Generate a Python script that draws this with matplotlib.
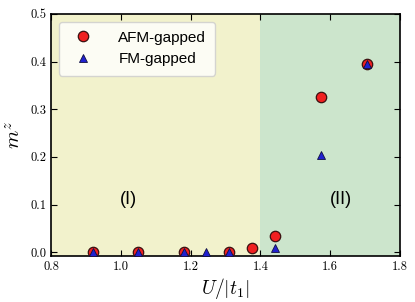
import matplotlib
matplotlib.use("Agg")
import matplotlib.pyplot as plt

# data
u_afm = [0.92, 1.05, 1.18, 1.31, 1.377, 1.443, 1.574, 1.705]
m_afm = [0.0, 0.0, 0.0, 0.0, 0.010, 0.035, 0.325, 0.395]
u_fm = [0.92, 1.05, 1.18, 1.245, 1.31, 1.443, 1.574, 1.705]
m_fm = [0.0, 0.0, 0.0, 0.0, 0.0, 0.010, 0.205, 0.395]
xticks = [0.8, 1.0, 1.2, 1.4, 1.6, 1.8]
yticks = [0.0, 0.1, 0.2, 0.3, 0.4, 0.5]

plt.rcParams['mathtext.fontset'] = 'cm'
plt.rcParams['font.family'] = ['Liberation Sans', 'DejaVu Sans']

fig, ax = plt.subplots(figsize=(4.15, 3.02), dpi=100)
fig.subplots_adjust(left=0.123, right=0.964, top=0.954, bottom=0.152)

# phase regions
ax.axvspan(0.8, 1.4, color='y', alpha=0.2, lw=0)
ax.axvspan(1.4, 1.8, color='g', alpha=0.2, lw=0)

ax.plot(u_afm, m_afm, 'o', ms=7.5, mfc='#f02020', mec='#3a1010', mew=0.9,
        label='AFM-gapped', zorder=3)
ax.plot(u_fm, m_fm, '^', ms=5.5, mfc='#2020d0', mec='#101040', mew=0.6,
        label='FM-gapped', zorder=4)

ax.text(1.023, 0.111, '(I)', fontsize=13, ha='center', va='center')
ax.text(1.632, 0.111, '(II)', fontsize=13, ha='center', va='center')

ax.set_xlim(0.8, 1.8)
ax.set_ylim(-0.008, 0.5)
ax.set_xticks(xticks)
ax.set_yticks(yticks)
ax.set_xticklabels([f'{v:.1f}' for v in xticks], fontfamily='cmr10')
ax.set_yticklabels([f'{v:.1f}' for v in yticks], fontfamily='cmr10')
ax.tick_params(direction='in', top=True, right=True, labelsize=9, length=4)
for s in ax.spines.values():
    s.set_linewidth(1.2)

ax.set_xlabel(r'$U/|t_1|$', fontsize=14, labelpad=2)
ax.set_ylabel(r'$m^z$', fontsize=15, labelpad=4)

ax.legend(loc='upper left', fontsize=11, frameon=True, framealpha=0.8,
          handletextpad=1.3, borderpad=0.6)

fig.savefig('out.png', dpi=100)
